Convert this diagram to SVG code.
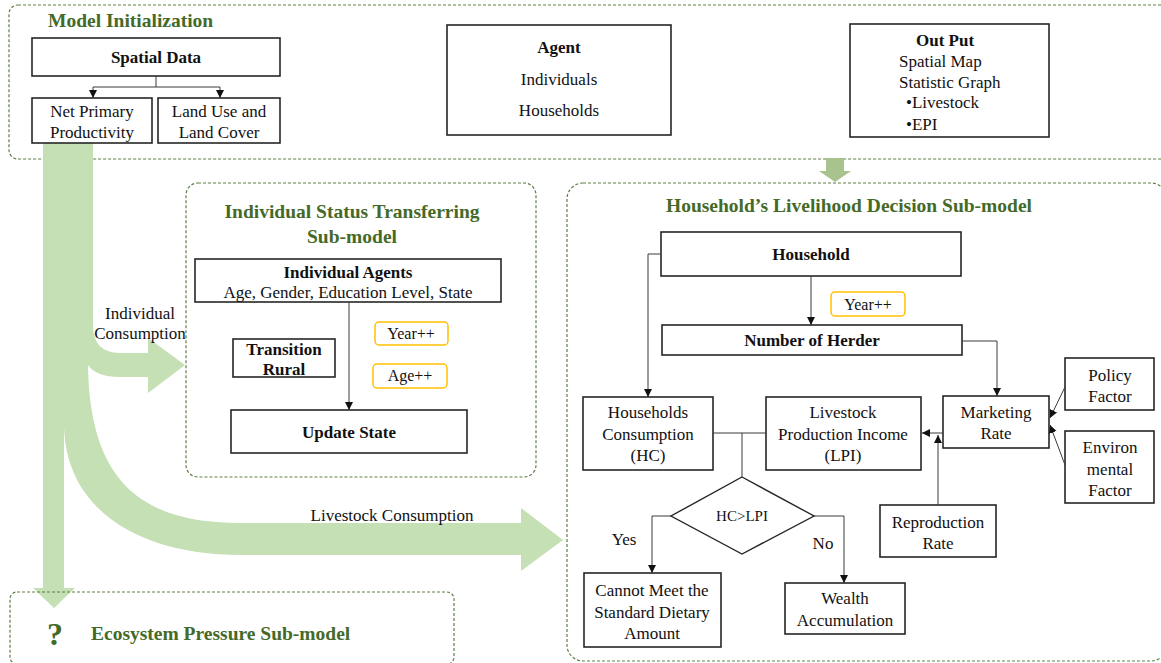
<svg xmlns="http://www.w3.org/2000/svg" width="1161" height="663" viewBox="0 0 1161 663" font-family="'Liberation Serif', 'DejaVu Serif', serif">
<defs>
<style>
text{font-family:"Liberation Serif","DejaVu Serif",serif;fill:#111;}
.t{font-family:"Liberation Serif","DejaVu Serif",serif;font-size:17px;font-weight:normal;text-anchor:middle;}
.tl{font-family:"Liberation Serif","DejaVu Serif",serif;font-size:17px;font-weight:normal;}
.s{font-family:"Liberation Serif","DejaVu Serif",serif;font-size:16px;font-weight:normal;text-anchor:middle;}
.b{font-family:"Liberation Serif","DejaVu Serif",serif;font-size:17px;font-weight:bold;text-anchor:middle;}
.ttl{font-family:"Liberation Serif","DejaVu Serif",serif;font-size:19.5px;font-weight:bold;fill:#456a28;}
.box{fill:#fff;stroke:#262626;stroke-width:1.6;}
.ybox{fill:#fff;stroke:#ffc000;stroke-width:1.5;}
.dash{fill:none;stroke:#5f7f45;stroke-width:1.2;stroke-dasharray:3 2;}
.ln{fill:none;stroke:#3a3a3a;stroke-width:1;}
.arr{fill:none;stroke:#3a3a3a;stroke-width:1;marker-end:url(#ah);}
.g{fill:#c5e0b4;}
</style>
<marker id="ah" markerUnits="userSpaceOnUse" markerWidth="9" markerHeight="9" refX="8" refY="4" orient="auto">
<path d="M0,0 L8,4 L0,8 z" fill="#111"/>
</marker>
</defs>

<g id="model-initialization">
<rect class="dash" x="9" y="5" width="1170" height="154" rx="9"/>
<text class="ttl" x="48" y="27">Model Initialization</text>
</g>

<g id="individual-submodel">
<rect class="dash" x="186" y="183" width="350" height="294" rx="12"/>
<text class="ttl" x="352" y="218" text-anchor="middle">Individual Status Transferring</text>
<text class="ttl" x="352" y="243" text-anchor="middle">Sub-model</text>
</g>

<g id="household-submodel">
<rect class="dash" x="567" y="183" width="600" height="478" rx="16"/>
<text class="ttl" x="849" y="212" text-anchor="middle">Household’s Livelihood Decision Sub-model</text>
</g>

<g id="flows">
<path class="g" d="M43,143 L93,143 L93,325 Q93,353 120,353 L148,353 L148,338 L185,365 L148,393 L148,377 L120,377 Q96,377 88,365 L88,400 L64,430 L64,588 L75,588 L54,608 L33,588 L43,588 Z"/>
<path class="g" d="M88,360 C88,480 140,523 240,523 L521,523 L521,508 L563,540 L521,571 L521,555 L240,555 C140,555 64,510 64,423 Z"/>
<path d="M826,158 L844,158 L844,171 L851,171 L835,182 L819,171 L826,171 Z" fill="#a9c38f"/>
<text class="t" x="140" y="319">Individual</text>
<text class="t" x="140" y="339">Consumption</text>
<text class="t" x="392" y="521">Livestock Consumption</text>
</g>

<g id="ecosystem-submodel">
<rect class="dash" x="10" y="592" width="444" height="72" rx="7"/>
<text x="55" y="645" text-anchor="middle" style="font-size:32px;font-weight:bold;fill:#456a28;">?</text>
<text class="ttl" x="91" y="640">Ecosystem Pressure Sub-model</text>
</g>

<g id="spatial-data">
<rect class="box" x="32" y="38" width="248" height="38"/>
<text class="b" x="156" y="63">Spatial Data</text>
</g>
<g id="npp">
<rect class="box" x="32" y="98" width="120" height="45"/>
<text class="t" x="92" y="117">Net Primary</text>
<text class="t" x="92" y="138">Productivity</text>
</g>
<g id="lulc">
<rect class="box" x="158" y="98" width="122" height="45"/>
<text class="t" x="219" y="117">Land Use and</text>
<text class="t" x="219" y="138">Land Cover</text>
</g>
<g id="agent">
<rect class="box" x="447" y="25" width="224" height="110"/>
<text class="b" x="559" y="53">Agent</text>
<text class="t" x="559" y="85">Individuals</text>
<text class="t" x="559" y="116">Households</text>
</g>
<g id="output">
<rect class="box" x="850" y="24" width="199" height="113"/>
<text class="b" x="945" y="46">Out Put</text>
<text class="tl" x="899" y="67">Spatial Map</text>
<text class="tl" x="899" y="88">Statistic Graph</text>
<text class="tl" x="906" y="108">•Livestock</text>
<text class="tl" x="906" y="130">•EPI</text>
</g>

<g id="individual-agents">
<rect class="box" x="195" y="259" width="306" height="43"/>
<text class="b" x="348" y="278">Individual Agents</text>
<text class="t" x="348" y="298">Age, Gender, Education Level, State</text>
</g>
<g id="transition-rural">
<rect class="box" x="233" y="339" width="102" height="38"/>
<text class="b" x="284" y="355">Transition</text>
<text class="b" x="284" y="375">Rural</text>
</g>
<g id="year-ind">
<rect class="ybox" x="375" y="322" width="73" height="23" rx="4"/>
<text class="s" x="411" y="339">Year++</text>
</g>
<g id="age-ind">
<rect class="ybox" x="373" y="364" width="74" height="24" rx="4"/>
<text class="s" x="410" y="381">Age++</text>
</g>
<g id="update-state">
<rect class="box" x="231" y="410" width="236" height="43"/>
<text class="b" x="349" y="438">Update State</text>
</g>

<g id="household">
<rect class="box" x="661" y="232" width="300" height="44"/>
<text class="b" x="811" y="260">Household</text>
</g>
<g id="year-hh">
<rect class="ybox" x="831" y="292" width="74" height="24" rx="4"/>
<text class="s" x="868" y="310">Year++</text>
</g>
<g id="number-of-herder">
<rect class="box" x="662" y="325" width="300" height="30"/>
<text class="b" x="812" y="346">Number of Herder</text>
</g>
<g id="hc">
<rect class="box" x="583" y="397" width="130" height="73"/>
<text class="t" x="648" y="418">Households</text>
<text class="t" x="648" y="440">Consumption</text>
<text class="t" x="648" y="461">(HC)</text>
</g>
<g id="lpi">
<rect class="box" x="766" y="397" width="155" height="73"/>
<text class="t" x="843" y="418">Livestock</text>
<text class="t" x="843" y="440">Production  Income</text>
<text class="t" x="843" y="461">(LPI)</text>
</g>
<g id="marketing-rate">
<rect class="box" x="943" y="396" width="106" height="52"/>
<text class="t" x="996" y="418">Marketing</text>
<text class="t" x="996" y="439">Rate</text>
</g>
<g id="policy-factor">
<rect class="box" x="1065" y="358" width="89" height="52"/>
<text class="t" x="1110" y="381">Policy</text>
<text class="t" x="1110" y="402">Factor</text>
</g>
<g id="environmental-factor">
<rect class="box" x="1065" y="431" width="89" height="72"/>
<text class="t" x="1110" y="453">Environ</text>
<text class="t" x="1110" y="475">mental</text>
<text class="t" x="1110" y="496">Factor</text>
</g>
<g id="reproduction-rate">
<rect class="box" x="880" y="505" width="116" height="52"/>
<text class="t" x="938" y="528">Reproduction</text>
<text class="t" x="938" y="549">Rate</text>
</g>
<g id="decision">
<polygon points="742,477 814,516 742,554 671,516" fill="#fff" stroke="#262626" stroke-width="1.4"/>
<text x="742" y="521" text-anchor="middle" style="font-size:15px;">HC&gt;LPI</text>
</g>
<g id="cannot-meet">
<rect class="box" x="584" y="573" width="137" height="74"/>
<text class="t" x="652" y="596">Cannot  Meet the</text>
<text class="t" x="652" y="618">Standard  Dietary</text>
<text class="t" x="652" y="639">Amount</text>
</g>
<g id="wealth">
<rect class="box" x="785" y="583" width="120" height="51"/>
<text class="t" x="845" y="604">Wealth</text>
<text class="t" x="845" y="626">Accumulation</text>
</g>

<g id="connectors">
<path class="ln" d="M156,76 V87 M93,87 H220"/>
<path class="arr" d="M93,87 V98"/>
<path class="arr" d="M220,87 V98"/>
<path class="arr" d="M349,302 V410"/>
<path class="arr" d="M811,276 V325"/>
<path class="arr" d="M661,254 H648 V397"/>
<path class="arr" d="M962,341 H997 V396"/>
<path class="arr" d="M1065,387 L1050,418"/>
<path class="arr" d="M1065,465 L1050,425"/>
<path class="arr" d="M943,433 H922"/>
<path class="arr" d="M938,505 V435"/>
<path class="ln" d="M713,433 H766 M742,433 V477"/>
<path class="arr" d="M671,516 H652 V573"/>
<path class="arr" d="M814,516 H844 V583"/>
<text class="t" x="624" y="545">Yes</text>
<text class="t" x="823" y="549">No</text>
</g>
</svg>
